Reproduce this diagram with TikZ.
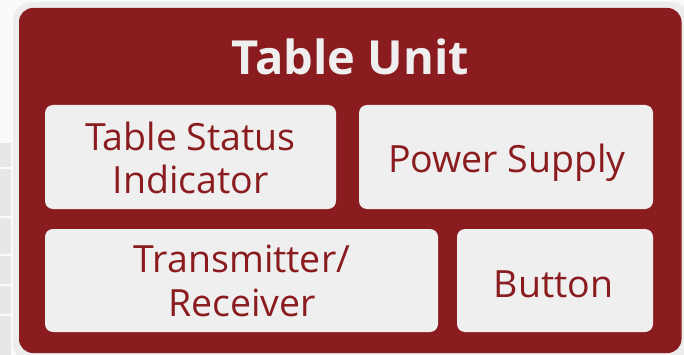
\documentclass[tikz,border=0pt]{standalone}
\usepackage{fontspec}
\setmainfont{Open Sans}
\definecolor{unitred}{HTML}{8A1C1F}
\definecolor{panel}{HTML}{EFEFEF}
\definecolor{ring}{HTML}{EDEDED}
\definecolor{page}{HTML}{F9FAFB}
\definecolor{tile}{HTML}{E7E7E7}
\begin{document}
\begin{tikzpicture}[x=1pt,y=-1pt,
  part/.style={fill=panel, rounded corners=8pt, draw=none},
  partlabel/.style={text=unitred, font=\fontsize{37.5}{43.5}\selectfont, align=center, inner sep=0pt, anchor=base},
  titlelabel/.style={text=panel, font=\fontsize{47}{54}\selectfont\bfseries, inner sep=0pt, anchor=base}]
  % page and bounding box
  \fill[page] (0,0) rectangle (684,355);
  \useasboundingbox (0,0) rectangle (684,355);
  % faint tiles along the left edge
  \foreach \ya/\yb in {143/167, 169/216, 218/254, 256/284, 286/314, 316/355}
    \fill[tile] (0,\ya) rectangle (11,\yb);
  % light ring around the unit
  \fill[ring, rounded corners=18pt] (13,2) rectangle (690,362);
  % the unit itself
  \fill[unitred, rounded corners=14pt] (19,8) rectangle (681.5,353);
  \node[titlelabel] (title) at (350.3,75) {Table Unit};
  % component panels
  \path[part] (45,105) rectangle (336,209);
  \path[part] (359,105) rectangle (653,209);
  \path[part] (45,229) rectangle (438,332);
  \path[part] (457,229) rectangle (653,332);
  % two-line labels are placed by the baseline of their last line
  \node[partlabel, font=\fontsize{37.5}{42.6}\selectfont] (tsi) at (190.5,193.3) {Table Status\\Indicator};
  \node[partlabel] (psu) at (507,172.3) {Power Supply};
  \node[partlabel, font=\fontsize{37.5}{44.5}\selectfont] (trx) at (242,316.7) {Transmitter/\\Receiver};
  \node[partlabel] (btn) at (553.5,297.5) {Button};
\end{tikzpicture}
\end{document}
